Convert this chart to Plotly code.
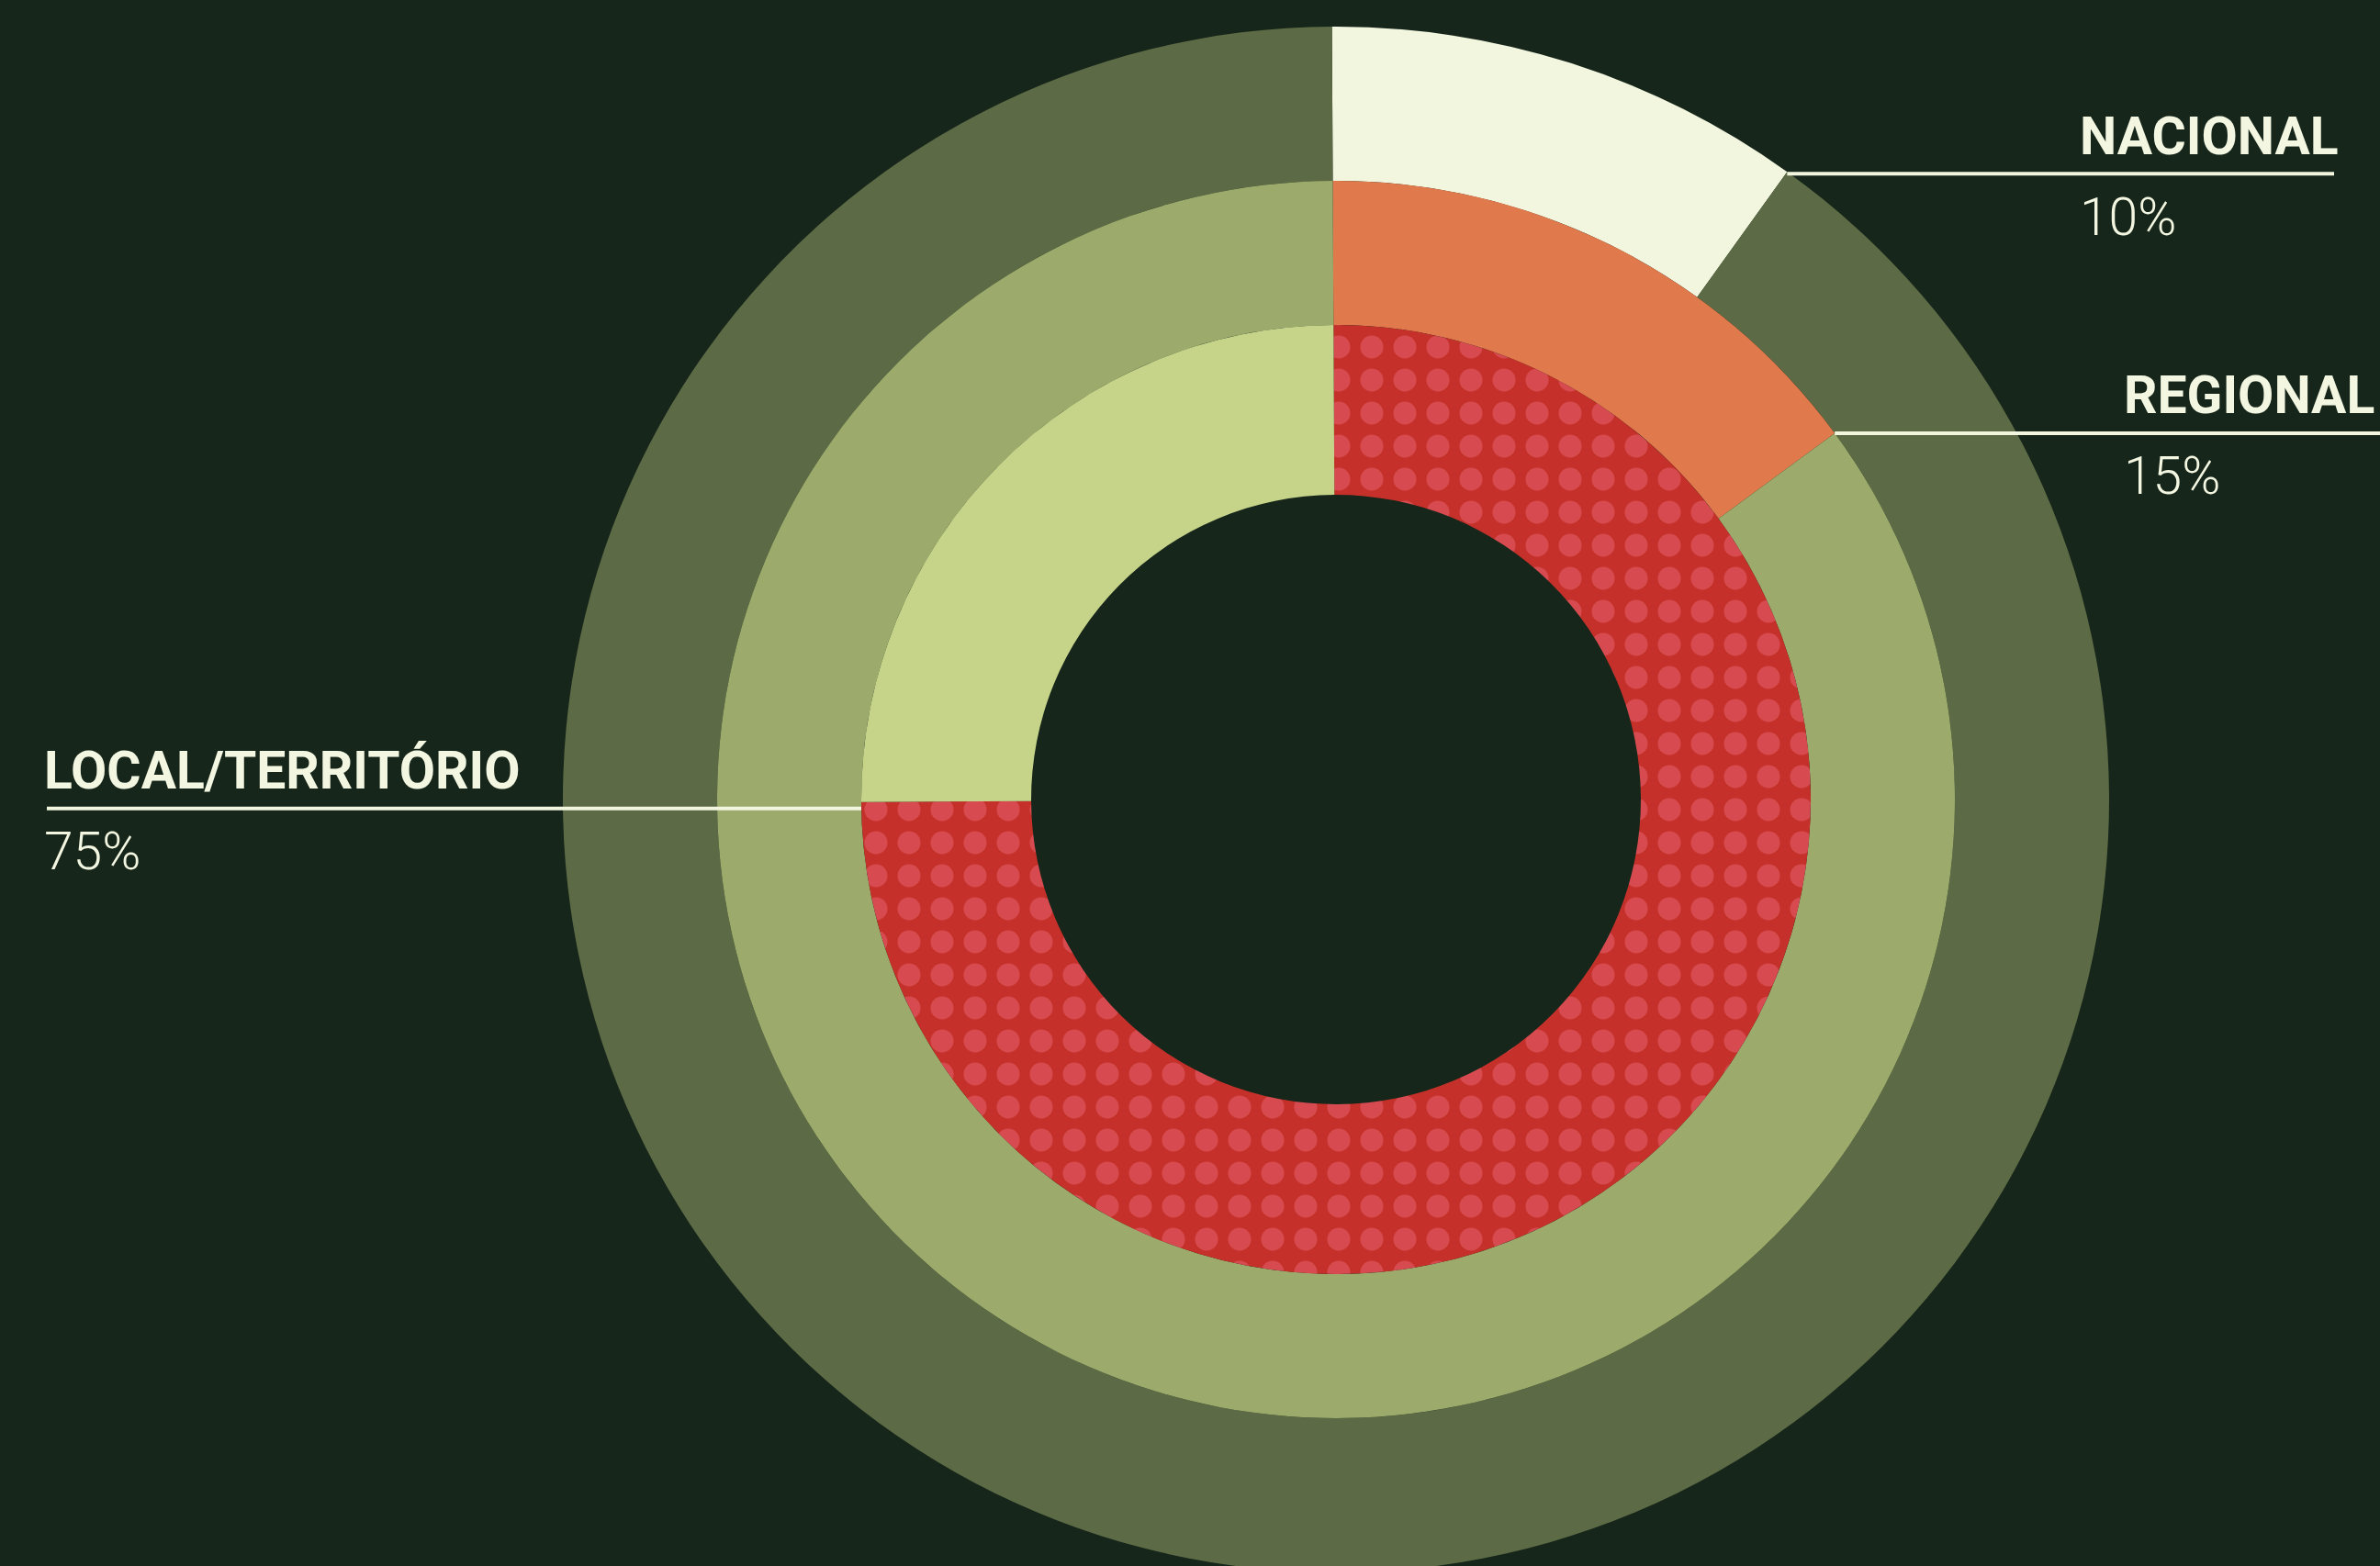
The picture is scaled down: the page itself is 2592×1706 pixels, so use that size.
import math
import plotly.graph_objects as go

# ---------------- data ----------------
outer_labels = ["Nacional", "Outros"]
outer_values = [10, 90]
middle_labels = ["Regional", "Outros"]
middle_values = [15, 85]
inner_labels = ["Local/Território", "Outros"]
inner_values = [75, 25]

label_titles = ["NACIONAL", "REGIONAL", "LOCAL/TERRITÓRIO"]
label_values = [outer_values[0], middle_values[0], inner_values[0]]

# ---------------- styling / geometry ----------------
W, H = 2592, 1714            # figure a few px taller than the window: outer ring is cut at the bottom
CX, CY = 1455, 871           # ring centre (px, from top-left)
R = [842, 674, 517, 332]     # outer edges of rings + hole (px)
ROT = -0.3                   # start angle (deg, clockwise from 12 o'clock)

BG = "#17261a"
CREAM = "#f2f6df"
TEXT = "#f3f6e1"
RED = "#c5312a"


def dom(r):
    return dict(x=[(CX - r) / W, (CX + r) / W],
                y=[(H - CY - r) / H, (H - CY + r) / H])


def ring(labels, values, colors, r_out, r_in, pattern=None):
    marker = dict(colors=colors, line=dict(width=0))
    if pattern:
        marker["pattern"] = pattern
    return go.Pie(labels=labels, values=values, hole=r_in / r_out,
                  domain=dom(r_out), sort=False, direction="clockwise",
                  rotation=ROT, textinfo="none", hoverinfo="label+percent",
                  marker=marker, showlegend=False)


fig = go.Figure()
fig.add_trace(ring(outer_labels, outer_values, [CREAM, "#5c6b45"], R[0], R[1]))
fig.add_trace(ring(middle_labels, middle_values, ["#e0794b", "#9cab6c"], R[1], R[2]))
fig.add_trace(ring(inner_labels, inner_values, [RED, "#c6d48a"], R[2], R[3],
                   pattern=dict(shape=[".", ""], fgcolor="#d74a50", fgopacity=1,
                                bgcolor=[RED, "#c6d48a"],
                                size=36, solidity=0.38, fillmode="replace")))


def point(values, r):
    ang = math.radians(ROT + 360 * values[0] / sum(values))
    return CX + r * math.sin(ang), CY - r * math.cos(ang)


def px(x):
    return x / W


def py(y):
    return 1 - y / H


# leader lines + labels
p_nac = point(outer_values, R[0])
p_reg = point(middle_values, R[1])
p_loc = point(inner_values, R[2])

lines = [
    (p_nac[0], 2542, p_nac[1] + 2),
    (p_reg[0], 2592, p_reg[1]),
    (51, p_loc[0], p_loc[1] + 7),
]
for x0, x1, y in lines:
    fig.add_shape(type="line", xref="paper", yref="paper",
                  x0=px(x0), x1=px(x1), y0=py(y), y1=py(y),
                  line=dict(color=CREAM, width=4))

text_left = [2263, 2311, 46]
for title, val, (x0, x1, y), tl in zip(label_titles, label_values, lines, text_left):
    fig.add_annotation(xref="paper", yref="paper", x=px(tl), y=py(y - 41),
                       xanchor="left", yanchor="middle", showarrow=False,
                       text=f"<b>{title}</b>",
                       font=dict(family="Roboto", size=57, color=TEXT))
    fig.add_annotation(xref="paper", yref="paper", x=px(tl), y=py(y + 47),
                       xanchor="left", yanchor="middle", showarrow=False,
                       text=f"{val}%",
                       font=dict(family="Roboto", size=57, color=TEXT, weight=300))

fig.update_layout(width=W, height=H, autosize=False,
                  paper_bgcolor=BG, plot_bgcolor=BG,
                  margin=dict(l=0, r=0, t=0, b=0))

post = ("document.body.style.margin='0';"
        "document.body.style.overflow='hidden';"
        "document.documentElement.style.overflow='hidden';"
        f"document.body.style.background='{BG}';")
fig.write_html("out.html", post_script=post, config={"displayModeBar": False})
